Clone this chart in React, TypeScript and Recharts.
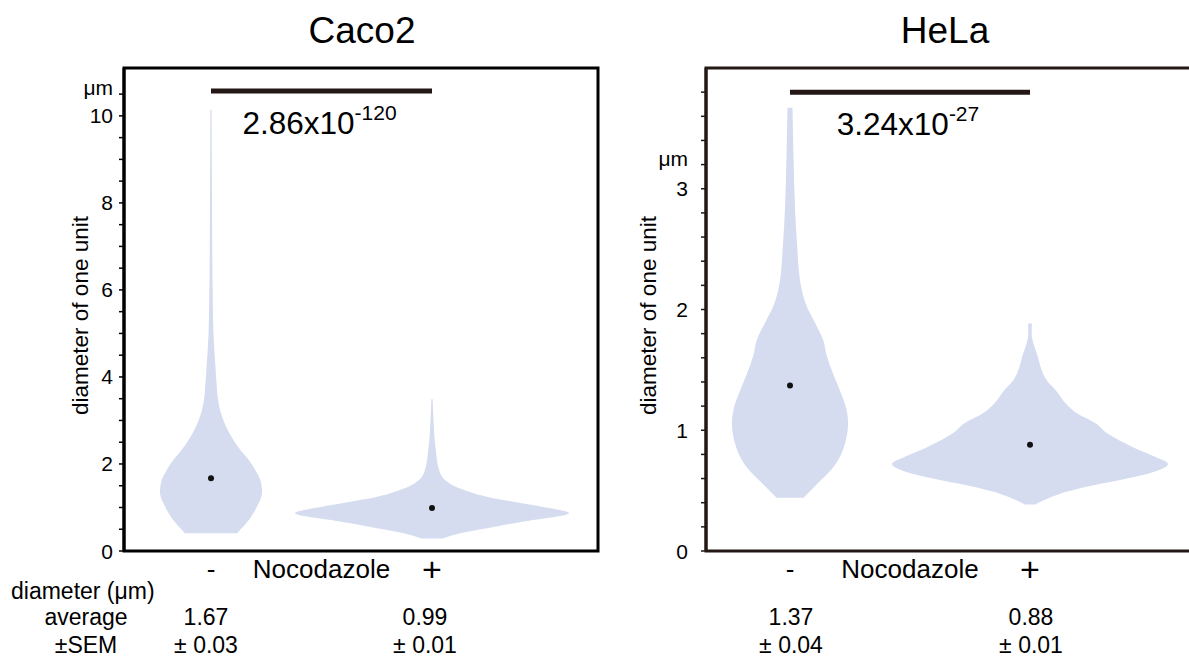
import {
  ComposedChart,
  Area,
  XAxis,
  YAxis,
  ReferenceArea,
  ReferenceLine,
  ReferenceDot,
} from "recharts";

const FONT = "'Liberation Sans', Arial, Helvetica, sans-serif";
const VIOLIN = "#d5dcef";

const groups = ["-", "+"];
const treatment = "Nocodazole";
const cellLines = ["Caco2", "HeLa"];

// diameter (µm) and half-width of the density, in units of the group spacing
const caco2MinusD = [0.41, 0.71, 1.02, 1.25, 1.36, 1.63, 1.86, 2.09, 2.32, 2.71, 3.09, 3.47, 3.86, 4.24, 5.0, 5.77, 7.0, 8.5, 10.14];
const caco2MinusW = [0.118, 0.171, 0.208, 0.228, 0.231, 0.223, 0.2, 0.171, 0.133, 0.083, 0.05, 0.032, 0.025, 0.02, 0.011, 0.008, 0.0054, 0.0041, 0.0027];
const caco2PlusD = [0.29, 0.33, 0.43, 0.56, 0.69, 0.77, 0.87, 0.98, 1.1, 1.23, 1.4, 1.59, 1.86, 2.32, 3.09, 3.49];
const caco2PlusW = [0.05, 0.072, 0.149, 0.285, 0.43, 0.538, 0.62, 0.538, 0.407, 0.262, 0.145, 0.068, 0.032, 0.017, 0.006, 0.003];
const helaMinusD = [0.44, 0.56, 0.67, 0.78, 0.89, 1.06, 1.19, 1.33, 1.47, 1.61, 1.75, 1.89, 2.02, 2.19, 2.55, 2.83, 3.24, 3.67];
const helaMinusW = [0.056, 0.115, 0.171, 0.208, 0.229, 0.242, 0.233, 0.208, 0.179, 0.154, 0.138, 0.104, 0.071, 0.046, 0.029, 0.021, 0.015, 0.0104];
const helaPlusD = [0.386, 0.42, 0.475, 0.544, 0.6, 0.654, 0.72, 0.78, 0.86, 0.97, 1.06, 1.14, 1.22, 1.33, 1.41, 1.53, 1.61, 1.72, 1.8, 1.885];
const helaPlusW = [0.022, 0.057, 0.126, 0.265, 0.404, 0.515, 0.575, 0.521, 0.429, 0.325, 0.271, 0.196, 0.15, 0.108, 0.071, 0.043, 0.0325, 0.014, 0.007, 0.008];

const caco2Mean = [1.67, 0.99];
const caco2Sem = [0.03, 0.01];
const helaMean = [1.37, 0.88];
const helaSem = [0.04, 0.01];

const pMantissa = ["2.86", "3.24"];
const pExponent = ["-120", "-27"];

const caco2Ticks = [0, 0.5, 1, 1.5, 2, 2.5, 3, 3.5, 4, 4.5, 5, 5.5, 6, 6.5, 7, 7.5, 8, 8.5, 9, 9.5, 10, 10.5];
const helaTicks = [0, 0.2, 0.4, 0.6, 0.8, 1, 1.2, 1.4, 1.6, 1.8, 2, 2.2, 2.4, 2.6, 2.8, 3, 3.2, 3.4, 3.6, 3.8];

function ValueTick(props: any) {
  const { x, y, payload, step, unitAt } = props;
  const v = payload.value;
  if (Math.abs(v - unitAt) < 1e-9) {
    return (
      <text x={x} y={y + 1} textAnchor="end" fontSize={21} fill="#000" fontFamily={FONT}>
        μm
      </text>
    );
  }
  const r = v / step;
  if (Math.abs(r - Math.round(r)) > 1e-6) return <g />;
  return (
    <text x={x} y={y} dy={7.5} textAnchor="end" fontSize={21} fill="#000" fontFamily={FONT}>
      {v}
    </text>
  );
}

function GroupTick(props: any) {
  const { x, y, payload } = props;
  const v = payload.value;
  const label = v === 1 ? groups[0] : v === 2 ? groups[1] : treatment;
  const plus = label === "+";
  return (
    <text x={x} y={y + (plus ? 30 : 27)} textAnchor="middle" fontSize={plus ? 34 : 26} fill="#000" fontFamily={FONT}>
      {label}
    </text>
  );
}

function AxisTitle(props: any) {
  const vb = props.viewBox ?? { x: 0, y: 0, width: 80, height: 483 };
  const cx = vb.x + vb.width - props.gap;
  const cy = vb.y + vb.height / 2 + 6;
  return (
    <text
      x={cx}
      y={cy}
      transform={`rotate(-90 ${cx} ${cy})`}
      textAnchor="middle"
      dominantBaseline="central"
      fontSize={22.5}
      fill="#000"
      fontFamily={FONT}
    >
      diameter of one unit
    </text>
  );
}

interface PanelProps {
  minusD: number[];
  minusW: number[];
  plusD: number[];
  plusW: number[];
  mean: number[];
  p: string;
  exp: string;
  ticks: number[];
  labelStep: number;
  unitTick: number;
  yMax: number;
  barY: number;
  xDomain: [number, number];
  left: number;
  width: number;
  frame: string;
  tickGap: number;
  titleGap: number;
}

function ViolinPanel({
  minusD,
  minusW,
  plusD,
  plusW,
  mean,
  p,
  exp,
  ticks,
  labelStep,
  unitTick,
  yMax,
  barY,
  xDomain,
  left,
  width,
  frame,
  tickGap,
  titleGap,
}: PanelProps) {
  const rows = [
    ...minusD.map((d, i) => ({ d, minus: [1 - minusW[i], 1 + minusW[i]] })),
    ...plusD.map((d, i) => ({ d, plus: [2 - plusW[i], 2 + plusW[i]] })),
  ];

  return (
    <div style={{ position: "absolute", left, top: 0 }}>
      <ComposedChart
        layout="vertical"
        width={width}
        height={600}
        data={rows}
        margin={{ top: 68, right: 10, bottom: 9, left: 0 }}
        style={{ fontFamily: FONT }}
      >
        <XAxis
          type="number"
          domain={xDomain}
          allowDataOverflow
          ticks={[1, 1.5, 2]}
          interval={0}
          axisLine={false}
          tickLine={false}
          tickSize={0}
          tickMargin={0}
          height={40}
          tick={<GroupTick />}
        />
        <YAxis
          type="number"
          dataKey="d"
          domain={[0, yMax]}
          allowDataOverflow
          reversed
          ticks={ticks}
          interval={0}
          width={80}
          axisLine={{ stroke: frame, strokeWidth: 3 }}
          tickLine={{ stroke: frame, strokeWidth: 1.5 }}
          tickSize={5}
          tickMargin={tickGap}
          tick={<ValueTick step={labelStep} unitAt={unitTick} />}
          label={<AxisTitle gap={titleGap} />}
        />
        <Area
          dataKey="minus"
          type="monotone"
          fill={VIOLIN}
          fillOpacity={1}
          stroke="none"
          dot={false}
          activeDot={false}
          isAnimationActive={false}
        />
        <Area
          dataKey="plus"
          type="monotone"
          fill={VIOLIN}
          fillOpacity={1}
          stroke="none"
          dot={false}
          activeDot={false}
          isAnimationActive={false}
        />
        <ReferenceArea
          x1={xDomain[0]}
          x2={xDomain[1]}
          y1={0}
          y2={yMax}
          fill="none"
          fillOpacity={0}
          stroke={frame}
          strokeWidth={3}
          ifOverflow="visible"
        />
        <ReferenceLine
          segment={[
            { x: 1, y: barY },
            { x: 2, y: barY },
          ]}
          stroke="#231815"
          strokeWidth={5}
          ifOverflow="visible"
        />
        <ReferenceDot
          x={1.5}
          y={barY}
          r={0}
          ifOverflow="visible"
          shape={(s: any) => (
            <text x={s.cx - 2} y={s.cy + 43} textAnchor="middle" fill="#000" fontFamily={FONT}>
              <tspan fontSize={31.5}>{p}x10</tspan>
              <tspan fontSize={21} dy={-14}>
                {exp}
              </tspan>
            </text>
          )}
        />
        {mean.map((m, i) => (
          <ReferenceDot key={i} x={i + 1} y={m} r={3} fill="#111" stroke="none" ifOverflow="visible" />
        ))}
      </ComposedChart>
    </div>
  );
}

const tableX = [206, 425, 791, 1031];

export default function App() {
  const means = [...caco2Mean, ...helaMean];
  const sems = [...caco2Sem, ...helaSem];
  return (
    <div
      style={{
        position: "absolute",
        left: 0,
        top: 0,
        width: 1189,
        height: 663,
        overflow: "hidden",
        background: "#fff",
        fontFamily: FONT,
      }}
    >
      <ViolinPanel
        minusD={caco2MinusD}
        minusW={caco2MinusW}
        plusD={caco2PlusD}
        plusW={caco2PlusW}
        mean={caco2Mean}
        p={pMantissa[0]}
        exp={pExponent[0]}
        ticks={caco2Ticks}
        labelStep={2}
        unitTick={10.5}
        yMax={11.1}
        barY={10.57}
        xDomain={[0.6063, 2.7511]}
        left={44}
        width={564}
        frame="#000"
        tickGap={6}
        titleGap={44}
      />
      <ViolinPanel
        minusD={helaMinusD}
        minusW={helaMinusW}
        plusD={helaPlusD}
        plusW={helaPlusW}
        mean={helaMean}
        p={pMantissa[1]}
        exp={pExponent[1]}
        ticks={helaTicks}
        labelStep={1}
        unitTick={3.2}
        yMax={4}
        barY={3.8}
        xDomain={[0.65, 2.6875]}
        left={626}
        width={579}
        frame="#231815"
        tickGap={13}
        titleGap={58}
      />
      <svg
        width={1189}
        height={663}
        style={{ position: "absolute", left: 0, top: 0, pointerEvents: "none" }}
        fontFamily={FONT}
      >
        <text x={362} y={43} textAnchor="middle" fontSize={37} fill="#000">
          {cellLines[0]}
        </text>
        <text x={945} y={43} textAnchor="middle" fontSize={37} fill="#000">
          {cellLines[1]}
        </text>
        <text x={11} y={599} fontSize={23} fill="#000">
          diameter (μm)
        </text>
        <text x={86} y={625} textAnchor="middle" fontSize={23} fill="#000">
          average
        </text>
        <text x={86} y={653} textAnchor="middle" fontSize={23} fill="#000">
          ±SEM
        </text>
        {means.map((m, i) => (
          <text key={`m${i}`} x={tableX[i]} y={625} textAnchor="middle" fontSize={23} fill="#000">
            {m.toFixed(2)}
          </text>
        ))}
        {sems.map((s, i) => (
          <text key={`s${i}`} x={tableX[i]} y={653} textAnchor="middle" fontSize={23} fill="#000">
            ± {s.toFixed(2)}
          </text>
        ))}
      </svg>
    </div>
  );
}
